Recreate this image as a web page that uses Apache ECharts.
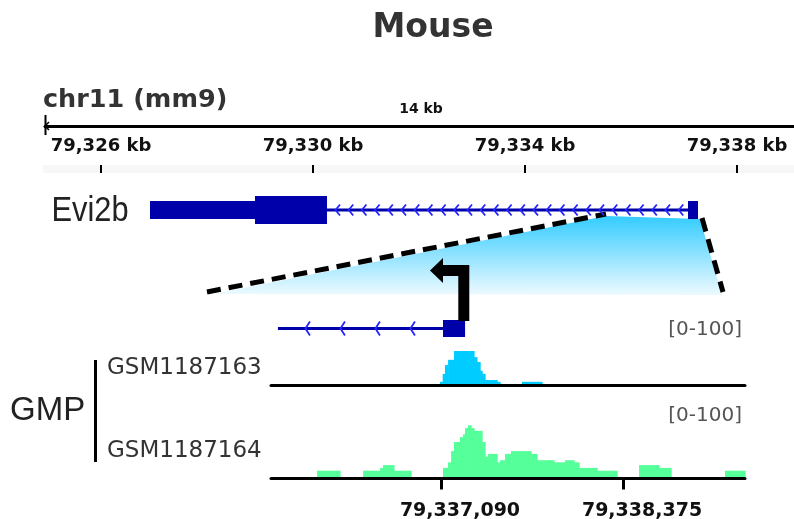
<!DOCTYPE html>
<html>
<head>
<meta charset="utf-8">
<script src="https://cdn.jsdelivr.net/npm/echarts@6/dist/echarts.min.js"></script>
<style>
  html, body { margin: 0; padding: 0; background: #fff; }
  #chart { width: 794px; height: 519px; }
</style>
</head>
<body>
<div id="chart"></div>
<script>
// ---- Overview: chr11 ruler (kb) ----
const rulerTicks = [79326, 79330, 79334, 79338];
const rulerMin = 79324.943;
const rulerMax = 79339.075;

// Evi2b gene model on the overview axis (kb): [start, end, part]
const evi2bExons = [
  [79326.924, 79328.905, 'utr'],
  [79328.905, 79330.264, 'cds'],
  [79337.075, 79337.264, 'utr']
];
const evi2bIntron = [[79330.264, 79337.075]];

// ---- Detail window (bp) ----
const detailMin = 79335890;
const detailMax = 79339236;
const detailTicks = [79337090, 79338375];
const tssIntron = [[79335939, 79337104]];
const tssExon = [[79337104, 79337260, 'cds']];

// Coverage bins: [start, end, signal (0-100)]
const gsm1187163 = [
  [79337083, 79337102, 5],
  [79337102, 79337118, 23],
  [79337118, 79337140, 43],
  [79337140, 79337182, 55],
  [79337182, 79337323, 75],
  [79337323, 79337344, 61],
  [79337344, 79337366, 50],
  [79337366, 79337380, 30],
  [79337380, 79337401, 23],
  [79337401, 79337486, 9],
  [79337486, 79337507, 5],
  [79337662, 79337803, 5]
];
const gsm1187164 = [
  [79336215, 79336377, 9],
  [79336540, 79336660, 9],
  [79336660, 79336681, 13],
  [79336681, 79336758, 17],
  [79336758, 79336878, 9],
  [79337104, 79337140, 13],
  [79337140, 79337161, 21],
  [79337161, 79337182, 37],
  [79337182, 79337224, 50],
  [79337224, 79337246, 57],
  [79337246, 79337260, 61],
  [79337260, 79337281, 70],
  [79337281, 79337302, 74],
  [79337302, 79337323, 70],
  [79337323, 79337380, 66],
  [79337380, 79337401, 50],
  [79337401, 79337422, 29],
  [79337422, 79337486, 33],
  [79337486, 79337507, 21],
  [79337507, 79337542, 24],
  [79337542, 79337584, 33],
  [79337584, 79337726, 37],
  [79337726, 79337768, 33],
  [79337768, 79337888, 24],
  [79337888, 79337966, 21],
  [79337966, 79338029, 24],
  [79338029, 79338065, 21],
  [79338065, 79338192, 13],
  [79338192, 79338333, 9],
  [79338488, 79338629, 17],
  [79338629, 79338714, 13],
  [79339095, 79339236, 9]
];

const trackNames = ['GSM1187163', 'GSM1187164'];
const dataRange = '[0-100]';

const FONT = 'DejaVu Sans';
const GENE_DARK = '#0000aa';
const GENE_ARROW = '#2424ff';
const exonHeight = { utr: 18, cds: 28 };

const chart = echarts.init(document.getElementById('chart'), null, { renderer: 'canvas' });

const fmtThousands = v => Math.round(v).toString().replace(/\B(?=(\d{3})+(?!\d))/g, ',');

function coverageSeries(data, color, axisIdx) {
  return {
    type: 'custom',
    xAxisIndex: axisIdx, yAxisIndex: axisIdx - 1,
    data: data,
    encode: { x: [0, 1], y: 2 },
    silent: true,
    renderItem(params, api) {
      const a = api.coord([api.value(0), 0]);
      const b = api.coord([api.value(1), api.value(2)]);
      return {
        type: 'rect',
        shape: { x: a[0], y: b[1], width: b[0] - a[0] + 0.6, height: a[1] - b[1] },
        style: { fill: color }
      };
    }
  };
}

function exonSeries(exons, xi, yi, scaleH) {
  return {
    type: 'custom', xAxisIndex: xi, yAxisIndex: yi,
    data: exons.map(e => [e[0], e[1]]),
    encode: { x: [0, 1] },
    silent: true, z: 4,
    renderItem(params, api) {
      const a = api.coord([api.value(0), 0]);
      const b = api.coord([api.value(1), 0]);
      const h = exonHeight[exons[params.dataIndex][2]] * scaleH;
      return {
        type: 'rect',
        shape: { x: a[0], y: a[1] - h / 2, width: b[0] - a[0], height: h },
        style: { fill: GENE_DARK }
      };
    }
  };
}

function intronSeries(introns, xi, yi, spacing, firstOffset, chevH) {
  return {
    type: 'custom', xAxisIndex: xi, yAxisIndex: yi,
    data: introns,
    encode: { x: [0, 1] },
    silent: true, z: 3,
    renderItem(params, api) {
      const a = api.coord([api.value(0), 0]);
      const b = api.coord([api.value(1), 0]);
      const y = a[1];
      const children = [{
        type: 'line',
        shape: { x1: a[0], y1: y, x2: b[0], y2: y },
        style: { stroke: GENE_DARK, lineWidth: 3 }
      }];
      for (let x = a[0] + firstOffset; x < b[0] - 4; x += spacing) {
        children.push({
          type: 'polyline',
          shape: { points: [[x + 3, y - chevH / 2], [x - 1.5, y], [x + 3, y + chevH / 2]] },
          style: { stroke: GENE_ARROW, lineWidth: 1.8, fill: null }
        });
      }
      return { type: 'group', children };
    }
  };
}

const hiddenY = (gi) => ({ gridIndex: gi, type: 'value', min: -1, max: 1, show: false });
const panel = (cfg) => Object.assign({ outerBoundsMode: 'none', containLabel: false }, cfg);
const solidLine = { show: true, onZero: false, lineStyle: { color: '#000', width: 3 } };

const option = {
  animation: false,
  backgroundColor: '#fff',
  grid: [
    panel({ left: 45, right: 0, top: 126, height: 39 }),        // ruler
    panel({ left: 45, right: 0, top: 196, height: 28 }),        // Evi2b overview
    panel({ left: 271, right: 49, top: 318.5, height: 20 }),    // detail gene
    panel({ left: 271, right: 49, top: 340, height: 44 }),      // GSM1187163
    panel({ left: 271, right: 49, top: 407, height: 70 })       // GSM1187164
  ],
  xAxis: [
    {
      gridIndex: 0, type: 'value', min: rulerMin, max: rulerMax, position: 'top',
      axisLine: solidLine,
      axisTick: { show: false },
      splitLine: { show: false },
      axisLabel: {
        inside: true, margin: 11, customValues: rulerTicks,
        formatter: v => fmtThousands(v) + ' kb',
        fontFamily: FONT, fontWeight: 'bold', fontSize: 18, color: '#111'
      }
    },
    {
      gridIndex: 0, type: 'value', min: rulerMin, max: rulerMax, position: 'bottom',
      axisLine: { show: false, onZero: false },
      axisTick: { show: true, customValues: rulerTicks, length: 8, lineStyle: { color: '#000', width: 2 } },
      axisLabel: { show: false },
      splitLine: { show: false }
    },
    { gridIndex: 1, type: 'value', min: rulerMin, max: rulerMax, show: false },
    { gridIndex: 2, type: 'value', min: detailMin, max: detailMax, show: false },
    {
      gridIndex: 3, type: 'value', min: detailMin, max: detailMax, offset: 1.5, z: 5,
      axisLine: solidLine,
      axisTick: { show: false }, axisLabel: { show: false }, splitLine: { show: false }
    },
    {
      gridIndex: 4, type: 'value', min: detailMin, max: detailMax, offset: 1.5, z: 5,
      axisLine: solidLine,
      axisTick: { show: true, customValues: detailTicks, length: 11, lineStyle: { color: '#000', width: 3 } },
      axisLabel: {
        customValues: detailTicks, margin: 23, padding: [0, 0, 0, 38],
        formatter: v => fmtThousands(v),
        fontFamily: FONT, fontWeight: 'bold', fontSize: 19, color: '#111'
      },
      splitLine: { show: false }
    }
  ],
  yAxis: [
    hiddenY(0), hiddenY(1), hiddenY(2),
    { gridIndex: 3, type: 'value', min: 0, max: 100, show: false },
    { gridIndex: 4, type: 'value', min: 0, max: 100, show: false }
  ],
  graphic: [
    // light band under the ruler ticks
    { type: 'rect', shape: { x: 43, y: 165, width: 751, height: 8 }, style: { fill: '#f7f7f7' }, z: -1 },
    // left end marker of the ruler
    { type: 'line', shape: { x1: 45.5, y1: 115, x2: 45.5, y2: 135 }, style: { stroke: '#000', lineWidth: 2 } },
    { type: 'polyline', shape: { points: [[49, 122], [45, 126], [49, 130]] }, style: { stroke: '#000', lineWidth: 1.5, fill: null } },
    // titles and labels
    { type: 'text', x: 433, y: 28, style: { text: 'Mouse', font: 'bold 33px "DejaVu Sans"', fill: '#333', align: 'center', verticalAlign: 'middle' } },
    { type: 'text', x: 43, y: 100, style: { text: 'chr11 (mm9)', font: 'bold 25.5px "DejaVu Sans"', fill: '#333', align: 'left', verticalAlign: 'middle' } },
    { type: 'text', x: 421, y: 109, style: { text: '14 kb', font: 'bold 14px "DejaVu Sans"', fill: '#111', align: 'center', verticalAlign: 'middle' } },
    { type: 'text', x: 46, y: 211, scaleX: 0.88, originX: 46, originY: 211,
      style: { text: 'Evi2b', font: '35px "Liberation Sans"', fill: '#222', align: 'left', verticalAlign: 'middle' } },
    // zoom callout from the overview gene down to the detail window
    { type: 'polygon', z: 1,
      shape: { points: [[214, 294], [606, 216], [700, 219], [722, 295]] },
      style: { fill: new echarts.graphic.LinearGradient(0, 0, 0, 1, [
        { offset: 0, color: '#33ccff' }, { offset: 1, color: '#eefaff' }
      ]) } },
    { type: 'line', z: 2, shape: { x1: 207, y1: 292, x2: 606, y2: 214 },
      style: { stroke: '#000', lineWidth: 5, lineDash: [14, 8] } },
    { type: 'line', z: 2, shape: { x1: 702, y1: 218, x2: 723, y2: 292 },
      style: { stroke: '#000', lineWidth: 5, lineDash: [14, 8] } },
    // transcription start arrow
    { type: 'polyline', z: 6, shape: { points: [[463.8, 321], [463.8, 270.5], [442, 270.5]] },
      style: { stroke: '#000', lineWidth: 11, lineJoin: 'miter', lineCap: 'butt', fill: null } },
    { type: 'polygon', z: 6, shape: { points: [[430, 270.5], [443, 258], [443, 283]] }, style: { fill: '#000' } },
    // track labels
    { type: 'text', x: 10, y: 411, style: { text: 'GMP', font: '33px "Liberation Sans"', fill: '#222', align: 'left', verticalAlign: 'middle' } },
    { type: 'line', shape: { x1: 95.5, y1: 360, x2: 95.5, y2: 462 }, style: { stroke: '#000', lineWidth: 3 } },
    { type: 'text', x: 107, y: 368, style: { text: trackNames[0], font: '23px "DejaVu Sans"', fill: '#333', align: 'left', verticalAlign: 'middle' } },
    { type: 'text', x: 107, y: 451, style: { text: trackNames[1], font: '23px "DejaVu Sans"', fill: '#333', align: 'left', verticalAlign: 'middle' } },
    { type: 'text', x: 742, y: 330, style: { text: dataRange, font: '20px "DejaVu Sans"', fill: '#555', align: 'right', verticalAlign: 'middle' } },
    { type: 'text', x: 742, y: 416, style: { text: dataRange, font: '20px "DejaVu Sans"', fill: '#555', align: 'right', verticalAlign: 'middle' } }
  ],
  series: [
    exonSeries(evi2bExons, 2, 1, 1),
    intronSeries(evi2bIntron, 2, 1, 13.2, 10, 11),
    intronSeries(tssIntron, 3, 2, 35, 29, 14),
    exonSeries(tssExon, 3, 2, 17 / 28),
    coverageSeries(gsm1187163, '#00ccff', 4),
    coverageSeries(gsm1187164, '#55ff99', 5)
  ]
};

chart.setOption(option);
</script>
</body>
</html>
